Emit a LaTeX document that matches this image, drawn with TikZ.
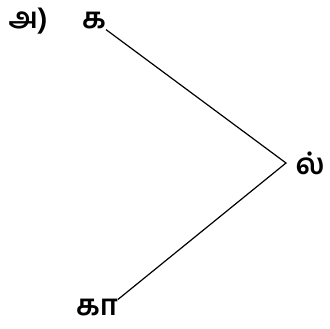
\documentclass[tikz,border=0pt]{standalone}
\usepackage{fontspec}
\newfontfamily\tamilfont[Script=Tamil]{Hind Madurai}
\usetikzlibrary{positioning}
\tikzset{letter/.style={inner sep=0pt,font=\tamilfont\bfseries\fontsize{29}{33}\selectfont}}

\begin{document}
\begin{tikzpicture}[x=1pt,y=-1pt]
\useasboundingbox (0,0) rectangle (330,329);
\node[letter] (mark) at (28,21) {அ)};
\node[letter] (ka) at (94,21) {க};
\node[letter] (l) at (310,163) {ல்};
\node[letter] (kaa) at (97,308) {கா};
\coordinate (v) at (286,163);
\draw[line width=1.2pt] (ka.south east) -- (v) -- (kaa.north east);
\end{tikzpicture}
\end{document}
